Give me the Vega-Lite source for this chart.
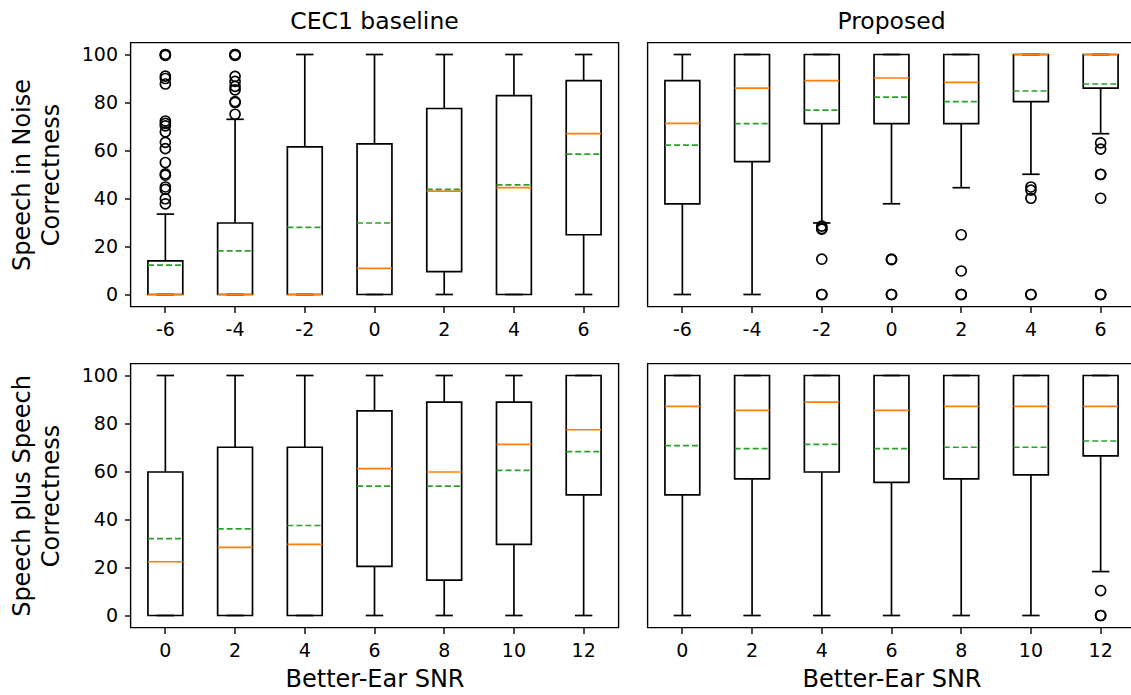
{
  "$schema": "https://vega.github.io/schema/vega-lite/v6.json",
  "background": "white",
  "padding": {"left": 9.5, "top": 8.5, "right": 0, "bottom": 0},
  "columns": 2,
  "spacing": {"row": 57, "column": 29},
  "bounds": "flush",
  "datasets": {
    "boxes": [
      {"panel": "TL", "snr": -6, "q1": 0, "q3": 14, "med": 0, "mean": 12.2, "lo": 0, "hi": 33.5},
      {"panel": "TL", "snr": -4, "q1": 0, "q3": 29.8, "med": 0, "mean": 18.2, "lo": 0, "hi": 73},
      {"panel": "TL", "snr": -2, "q1": 0, "q3": 61.5, "med": 0, "mean": 28, "lo": 0, "hi": 100},
      {"panel": "TL", "snr": 0, "q1": 0, "q3": 62.8, "med": 10.9, "mean": 29.8, "lo": 0, "hi": 100},
      {"panel": "TL", "snr": 2, "q1": 9.5, "q3": 77.5, "med": 43.1, "mean": 43.8, "lo": 0, "hi": 100},
      {"panel": "TL", "snr": 4, "q1": 0, "q3": 82.9, "med": 44.5, "mean": 45.7, "lo": 0, "hi": 100},
      {"panel": "TL", "snr": 6, "q1": 24.9, "q3": 89.1, "med": 67, "mean": 58.5, "lo": 0, "hi": 100},
      {"panel": "TR", "snr": -6, "q1": 37.8, "q3": 89.1, "med": 71.3, "mean": 62.2, "lo": 0, "hi": 100},
      {"panel": "TR", "snr": -4, "q1": 55.4, "q3": 100, "med": 86, "mean": 71.2, "lo": 0, "hi": 100},
      {"panel": "TR", "snr": -2, "q1": 71.2, "q3": 100, "med": 89.1, "mean": 76.8, "lo": 29.8, "hi": 100},
      {"panel": "TR", "snr": 0, "q1": 71.2, "q3": 100, "med": 90.2, "mean": 82.2, "lo": 37.8, "hi": 100},
      {"panel": "TR", "snr": 2, "q1": 71.2, "q3": 100, "med": 88.4, "mean": 80.4, "lo": 44.5, "hi": 100},
      {"panel": "TR", "snr": 4, "q1": 80.4, "q3": 100, "med": 100, "mean": 84.8, "lo": 50.1, "hi": 100},
      {"panel": "TR", "snr": 6, "q1": 86, "q3": 100, "med": 100, "mean": 87.7, "lo": 67, "hi": 100},
      {"panel": "BL", "snr": 0, "q1": 0, "q3": 59.8, "med": 22.4, "mean": 32, "lo": 0, "hi": 100},
      {"panel": "BL", "snr": 2, "q1": 0, "q3": 70.1, "med": 28.4, "mean": 36.1, "lo": 0, "hi": 100},
      {"panel": "BL", "snr": 4, "q1": 0, "q3": 70.1, "med": 29.6, "mean": 37.5, "lo": 0, "hi": 100},
      {"panel": "BL", "snr": 6, "q1": 20.5, "q3": 85.3, "med": 61.2, "mean": 53.9, "lo": 0, "hi": 100},
      {"panel": "BL", "snr": 8, "q1": 14.7, "q3": 88.9, "med": 59.8, "mean": 53.9, "lo": 0, "hi": 100},
      {"panel": "BL", "snr": 10, "q1": 29.6, "q3": 88.9, "med": 71.3, "mean": 60.5, "lo": 0, "hi": 100},
      {"panel": "BL", "snr": 12, "q1": 50.3, "q3": 100, "med": 77.4, "mean": 68.3, "lo": 0, "hi": 100},
      {"panel": "BR", "snr": 0, "q1": 50.3, "q3": 100, "med": 87.1, "mean": 70.8, "lo": 0, "hi": 100},
      {"panel": "BR", "snr": 2, "q1": 56.9, "q3": 100, "med": 85.5, "mean": 69.5, "lo": 0, "hi": 100},
      {"panel": "BR", "snr": 4, "q1": 59.8, "q3": 100, "med": 88.9, "mean": 71.3, "lo": 0, "hi": 100},
      {"panel": "BR", "snr": 6, "q1": 55.5, "q3": 100, "med": 85.5, "mean": 69.5, "lo": 0, "hi": 100},
      {"panel": "BR", "snr": 8, "q1": 56.9, "q3": 100, "med": 87.1, "mean": 70.1, "lo": 0, "hi": 100},
      {"panel": "BR", "snr": 10, "q1": 58.6, "q3": 100, "med": 87.1, "mean": 70.1, "lo": 0, "hi": 100},
      {"panel": "BR", "snr": 12, "q1": 66.5, "q3": 100, "med": 87.1, "mean": 72.7, "lo": 18.3, "hi": 100}
    ],
    "outliers": [
      {"panel": "TL", "snr": -6, "v": 100}, {"panel": "TL", "snr": -6, "v": 100}, {"panel": "TL", "snr": -6, "v": 99.6},
      {"panel": "TL", "snr": -6, "v": 91}, {"panel": "TL", "snr": -6, "v": 90}, {"panel": "TL", "snr": -6, "v": 87.7},
      {"panel": "TL", "snr": -6, "v": 72.3}, {"panel": "TL", "snr": -6, "v": 71.3}, {"panel": "TL", "snr": -6, "v": 70.3},
      {"panel": "TL", "snr": -6, "v": 67.8}, {"panel": "TL", "snr": -6, "v": 63.4}, {"panel": "TL", "snr": -6, "v": 60.8},
      {"panel": "TL", "snr": -6, "v": 55}, {"panel": "TL", "snr": -6, "v": 50.3}, {"panel": "TL", "snr": -6, "v": 49.7},
      {"panel": "TL", "snr": -6, "v": 44.8}, {"panel": "TL", "snr": -6, "v": 43.8}, {"panel": "TL", "snr": -6, "v": 39.9},
      {"panel": "TL", "snr": -6, "v": 37.8},
      {"panel": "TL", "snr": -4, "v": 100}, {"panel": "TL", "snr": -4, "v": 100}, {"panel": "TL", "snr": -4, "v": 99.6},
      {"panel": "TL", "snr": -4, "v": 90.9}, {"panel": "TL", "snr": -4, "v": 88.8}, {"panel": "TL", "snr": -4, "v": 86.7},
      {"panel": "TL", "snr": -4, "v": 85.3}, {"panel": "TL", "snr": -4, "v": 80.4}, {"panel": "TL", "snr": -4, "v": 80},
      {"panel": "TL", "snr": -4, "v": 75.1},
      {"panel": "TR", "snr": -2, "v": 28.5}, {"panel": "TR", "snr": -2, "v": 27.5}, {"panel": "TR", "snr": -2, "v": 27.2},
      {"panel": "TR", "snr": -2, "v": 14.7}, {"panel": "TR", "snr": -2, "v": 0}, {"panel": "TR", "snr": -2, "v": 0},
      {"panel": "TR", "snr": 0, "v": 14.7}, {"panel": "TR", "snr": 0, "v": 14.5}, {"panel": "TR", "snr": 0, "v": 0}, {"panel": "TR", "snr": 0, "v": 0},
      {"panel": "TR", "snr": 2, "v": 24.9}, {"panel": "TR", "snr": 2, "v": 9.8}, {"panel": "TR", "snr": 2, "v": 0}, {"panel": "TR", "snr": 2, "v": 0},
      {"panel": "TR", "snr": 4, "v": 44.8}, {"panel": "TR", "snr": 4, "v": 43.5}, {"panel": "TR", "snr": 4, "v": 40.1},
      {"panel": "TR", "snr": 4, "v": 0}, {"panel": "TR", "snr": 4, "v": 0},
      {"panel": "TR", "snr": 6, "v": 63.2}, {"panel": "TR", "snr": 6, "v": 60.6}, {"panel": "TR", "snr": 6, "v": 50.1},
      {"panel": "TR", "snr": 6, "v": 50}, {"panel": "TR", "snr": 6, "v": 40.1}, {"panel": "TR", "snr": 6, "v": 0}, {"panel": "TR", "snr": 6, "v": 0},
      {"panel": "BR", "snr": 12, "v": 10.4}, {"panel": "BR", "snr": 12, "v": 0}, {"panel": "BR", "snr": 12, "v": 0}
    ]
  },
  "concat": [
    {
      "width": 488, "height": 264,
      "title": "CEC1 baseline",
      "data": {"name": "boxes"},
      "transform": [{"filter": "datum.panel === 'TL'"}],
      "layer": [
        {"mark": {"type": "rule", "color": "black", "strokeWidth": 1.7},
         "encoding": {
           "x": {"field": "snr", "type": "ordinal", "scale": {"type": "band", "domain": [-6, -4, -2, 0, 2, 4, 6], "paddingInner": 0, "paddingOuter": 0}, "axis": {"title": null, "labelAngle": 0}},
           "y": {"field": "lo", "type": "quantitative", "scale": {"domain": [-5, 105], "nice": false, "zero": false}, "axis": {"title": ["Speech in Noise", "Correctness"], "values": [0, 20, 40, 60, 80, 100]}},
           "y2": {"field": "hi"}}},
        {"mark": {"type": "bar", "width": {"band": 0.5}, "fill": "white", "stroke": "black", "strokeWidth": 1.7},
         "encoding": {
           "x": {"field": "snr", "type": "ordinal", "scale": {"type": "band", "domain": [-6, -4, -2, 0, 2, 4, 6], "paddingInner": 0, "paddingOuter": 0}, "axis": {"title": null, "labelAngle": 0}},
           "y": {"field": "q1", "type": "quantitative", "scale": {"domain": [-5, 105], "nice": false, "zero": false}, "axis": {"title": ["Speech in Noise", "Correctness"], "values": [0, 20, 40, 60, 80, 100]}},
           "y2": {"field": "q3"}}},
        {"mark": {"type": "rule", "color": "black", "strokeWidth": 1.7, "xOffset": -8.7, "x2Offset": 8.7},
         "encoding": {
           "x": {"field": "snr", "type": "ordinal", "scale": {"type": "band", "domain": [-6, -4, -2, 0, 2, 4, 6], "paddingInner": 0, "paddingOuter": 0}, "axis": {"title": null, "labelAngle": 0}},
           "x2": {"field": "snr"},
           "y": {"field": "lo", "type": "quantitative", "scale": {"domain": [-5, 105], "nice": false, "zero": false}, "axis": {"title": ["Speech in Noise", "Correctness"], "values": [0, 20, 40, 60, 80, 100]}}}},
        {"mark": {"type": "rule", "color": "black", "strokeWidth": 1.7, "xOffset": -8.7, "x2Offset": 8.7},
         "encoding": {
           "x": {"field": "snr", "type": "ordinal", "scale": {"type": "band", "domain": [-6, -4, -2, 0, 2, 4, 6], "paddingInner": 0, "paddingOuter": 0}, "axis": {"title": null, "labelAngle": 0}},
           "x2": {"field": "snr"},
           "y": {"field": "hi", "type": "quantitative", "scale": {"domain": [-5, 105], "nice": false, "zero": false}, "axis": {"title": ["Speech in Noise", "Correctness"], "values": [0, 20, 40, 60, 80, 100]}}}},
        {"mark": {"type": "rule", "color": "#ff7f0e", "strokeWidth": 1.7, "xOffset": -17.4, "x2Offset": 17.4},
         "encoding": {
           "x": {"field": "snr", "type": "ordinal", "scale": {"type": "band", "domain": [-6, -4, -2, 0, 2, 4, 6], "paddingInner": 0, "paddingOuter": 0}, "axis": {"title": null, "labelAngle": 0}},
           "x2": {"field": "snr"},
           "y": {"field": "med", "type": "quantitative", "scale": {"domain": [-5, 105], "nice": false, "zero": false}, "axis": {"title": ["Speech in Noise", "Correctness"], "values": [0, 20, 40, 60, 80, 100]}}}},
        {"mark": {"type": "rule", "color": "#2ca02c", "strokeWidth": 1.7, "strokeDash": [6, 3], "xOffset": -17.4, "x2Offset": 17.4},
         "encoding": {
           "x": {"field": "snr", "type": "ordinal", "scale": {"type": "band", "domain": [-6, -4, -2, 0, 2, 4, 6], "paddingInner": 0, "paddingOuter": 0}, "axis": {"title": null, "labelAngle": 0}},
           "x2": {"field": "snr"},
           "y": {"field": "mean", "type": "quantitative", "scale": {"domain": [-5, 105], "nice": false, "zero": false}, "axis": {"title": ["Speech in Noise", "Correctness"], "values": [0, 20, 40, 60, 80, 100]}}}},
        {"data": {"name": "outliers"}, "transform": [{"filter": "datum.panel === 'TL'"}],
         "mark": {"type": "point", "shape": "circle", "filled": false, "stroke": "black", "strokeWidth": 1.7, "size": 100, "opacity": 1},
         "encoding": {
           "x": {"field": "snr", "type": "ordinal", "scale": {"type": "band", "domain": [-6, -4, -2, 0, 2, 4, 6], "paddingInner": 0, "paddingOuter": 0}, "axis": {"title": null, "labelAngle": 0}},
           "y": {"field": "v", "type": "quantitative", "scale": {"domain": [-5, 105], "nice": false, "zero": false}, "axis": {"title": ["Speech in Noise", "Correctness"], "values": [0, 20, 40, 60, 80, 100]}}}}
      ]
    },
    {
      "width": 488, "height": 264,
      "title": "Proposed",
      "data": {"name": "boxes"},
      "transform": [{"filter": "datum.panel === 'TR'"}],
      "layer": [
        {"mark": {"type": "rule", "color": "black", "strokeWidth": 1.7},
         "encoding": {
           "x": {"field": "snr", "type": "ordinal", "scale": {"type": "band", "domain": [-6, -4, -2, 0, 2, 4, 6], "paddingInner": 0, "paddingOuter": 0}, "axis": {"title": null, "labelAngle": 0}},
           "y": {"field": "lo", "type": "quantitative", "scale": {"domain": [-5, 105], "nice": false, "zero": false}, "axis": null},
           "y2": {"field": "hi"}}},
        {"mark": {"type": "bar", "width": {"band": 0.5}, "fill": "white", "stroke": "black", "strokeWidth": 1.7},
         "encoding": {
           "x": {"field": "snr", "type": "ordinal", "scale": {"type": "band", "domain": [-6, -4, -2, 0, 2, 4, 6], "paddingInner": 0, "paddingOuter": 0}, "axis": {"title": null, "labelAngle": 0}},
           "y": {"field": "q1", "type": "quantitative", "scale": {"domain": [-5, 105], "nice": false, "zero": false}, "axis": null},
           "y2": {"field": "q3"}}},
        {"mark": {"type": "rule", "color": "black", "strokeWidth": 1.7, "xOffset": -8.7, "x2Offset": 8.7},
         "encoding": {
           "x": {"field": "snr", "type": "ordinal", "scale": {"type": "band", "domain": [-6, -4, -2, 0, 2, 4, 6], "paddingInner": 0, "paddingOuter": 0}, "axis": {"title": null, "labelAngle": 0}},
           "x2": {"field": "snr"},
           "y": {"field": "lo", "type": "quantitative", "scale": {"domain": [-5, 105], "nice": false, "zero": false}, "axis": null}}},
        {"mark": {"type": "rule", "color": "black", "strokeWidth": 1.7, "xOffset": -8.7, "x2Offset": 8.7},
         "encoding": {
           "x": {"field": "snr", "type": "ordinal", "scale": {"type": "band", "domain": [-6, -4, -2, 0, 2, 4, 6], "paddingInner": 0, "paddingOuter": 0}, "axis": {"title": null, "labelAngle": 0}},
           "x2": {"field": "snr"},
           "y": {"field": "hi", "type": "quantitative", "scale": {"domain": [-5, 105], "nice": false, "zero": false}, "axis": null}}},
        {"mark": {"type": "rule", "color": "#ff7f0e", "strokeWidth": 1.7, "xOffset": -17.4, "x2Offset": 17.4},
         "encoding": {
           "x": {"field": "snr", "type": "ordinal", "scale": {"type": "band", "domain": [-6, -4, -2, 0, 2, 4, 6], "paddingInner": 0, "paddingOuter": 0}, "axis": {"title": null, "labelAngle": 0}},
           "x2": {"field": "snr"},
           "y": {"field": "med", "type": "quantitative", "scale": {"domain": [-5, 105], "nice": false, "zero": false}, "axis": null}}},
        {"mark": {"type": "rule", "color": "#2ca02c", "strokeWidth": 1.7, "strokeDash": [6, 3], "xOffset": -17.4, "x2Offset": 17.4},
         "encoding": {
           "x": {"field": "snr", "type": "ordinal", "scale": {"type": "band", "domain": [-6, -4, -2, 0, 2, 4, 6], "paddingInner": 0, "paddingOuter": 0}, "axis": {"title": null, "labelAngle": 0}},
           "x2": {"field": "snr"},
           "y": {"field": "mean", "type": "quantitative", "scale": {"domain": [-5, 105], "nice": false, "zero": false}, "axis": null}}},
        {"data": {"name": "outliers"}, "transform": [{"filter": "datum.panel === 'TR'"}],
         "mark": {"type": "point", "shape": "circle", "filled": false, "stroke": "black", "strokeWidth": 1.7, "size": 100, "opacity": 1},
         "encoding": {
           "x": {"field": "snr", "type": "ordinal", "scale": {"type": "band", "domain": [-6, -4, -2, 0, 2, 4, 6], "paddingInner": 0, "paddingOuter": 0}, "axis": {"title": null, "labelAngle": 0}},
           "y": {"field": "v", "type": "quantitative", "scale": {"domain": [-5, 105], "nice": false, "zero": false}, "axis": null}}}
      ]
    },
    {
      "width": 488, "height": 264,
      "data": {"name": "boxes"},
      "transform": [{"filter": "datum.panel === 'BL'"}],
      "layer": [
        {"mark": {"type": "rule", "color": "black", "strokeWidth": 1.7},
         "encoding": {
           "x": {"field": "snr", "type": "ordinal", "scale": {"type": "band", "domain": [0, 2, 4, 6, 8, 10, 12], "paddingInner": 0, "paddingOuter": 0}, "axis": {"title": "Better-Ear SNR", "labelAngle": 0}},
           "y": {"field": "lo", "type": "quantitative", "scale": {"domain": [-5, 105], "nice": false, "zero": false}, "axis": {"title": ["Speech plus Speech", "Correctness"], "values": [0, 20, 40, 60, 80, 100]}},
           "y2": {"field": "hi"}}},
        {"mark": {"type": "bar", "width": {"band": 0.5}, "fill": "white", "stroke": "black", "strokeWidth": 1.7},
         "encoding": {
           "x": {"field": "snr", "type": "ordinal", "scale": {"type": "band", "domain": [0, 2, 4, 6, 8, 10, 12], "paddingInner": 0, "paddingOuter": 0}, "axis": {"title": "Better-Ear SNR", "labelAngle": 0}},
           "y": {"field": "q1", "type": "quantitative", "scale": {"domain": [-5, 105], "nice": false, "zero": false}, "axis": {"title": ["Speech plus Speech", "Correctness"], "values": [0, 20, 40, 60, 80, 100]}},
           "y2": {"field": "q3"}}},
        {"mark": {"type": "rule", "color": "black", "strokeWidth": 1.7, "xOffset": -8.7, "x2Offset": 8.7},
         "encoding": {
           "x": {"field": "snr", "type": "ordinal", "scale": {"type": "band", "domain": [0, 2, 4, 6, 8, 10, 12], "paddingInner": 0, "paddingOuter": 0}, "axis": {"title": "Better-Ear SNR", "labelAngle": 0}},
           "x2": {"field": "snr"},
           "y": {"field": "lo", "type": "quantitative", "scale": {"domain": [-5, 105], "nice": false, "zero": false}, "axis": {"title": ["Speech plus Speech", "Correctness"], "values": [0, 20, 40, 60, 80, 100]}}}},
        {"mark": {"type": "rule", "color": "black", "strokeWidth": 1.7, "xOffset": -8.7, "x2Offset": 8.7},
         "encoding": {
           "x": {"field": "snr", "type": "ordinal", "scale": {"type": "band", "domain": [0, 2, 4, 6, 8, 10, 12], "paddingInner": 0, "paddingOuter": 0}, "axis": {"title": "Better-Ear SNR", "labelAngle": 0}},
           "x2": {"field": "snr"},
           "y": {"field": "hi", "type": "quantitative", "scale": {"domain": [-5, 105], "nice": false, "zero": false}, "axis": {"title": ["Speech plus Speech", "Correctness"], "values": [0, 20, 40, 60, 80, 100]}}}},
        {"mark": {"type": "rule", "color": "#ff7f0e", "strokeWidth": 1.7, "xOffset": -17.4, "x2Offset": 17.4},
         "encoding": {
           "x": {"field": "snr", "type": "ordinal", "scale": {"type": "band", "domain": [0, 2, 4, 6, 8, 10, 12], "paddingInner": 0, "paddingOuter": 0}, "axis": {"title": "Better-Ear SNR", "labelAngle": 0}},
           "x2": {"field": "snr"},
           "y": {"field": "med", "type": "quantitative", "scale": {"domain": [-5, 105], "nice": false, "zero": false}, "axis": {"title": ["Speech plus Speech", "Correctness"], "values": [0, 20, 40, 60, 80, 100]}}}},
        {"mark": {"type": "rule", "color": "#2ca02c", "strokeWidth": 1.7, "strokeDash": [6, 3], "xOffset": -17.4, "x2Offset": 17.4},
         "encoding": {
           "x": {"field": "snr", "type": "ordinal", "scale": {"type": "band", "domain": [0, 2, 4, 6, 8, 10, 12], "paddingInner": 0, "paddingOuter": 0}, "axis": {"title": "Better-Ear SNR", "labelAngle": 0}},
           "x2": {"field": "snr"},
           "y": {"field": "mean", "type": "quantitative", "scale": {"domain": [-5, 105], "nice": false, "zero": false}, "axis": {"title": ["Speech plus Speech", "Correctness"], "values": [0, 20, 40, 60, 80, 100]}}}}
      ]
    },
    {
      "width": 488, "height": 264,
      "data": {"name": "boxes"},
      "transform": [{"filter": "datum.panel === 'BR'"}],
      "layer": [
        {"mark": {"type": "rule", "color": "black", "strokeWidth": 1.7},
         "encoding": {
           "x": {"field": "snr", "type": "ordinal", "scale": {"type": "band", "domain": [0, 2, 4, 6, 8, 10, 12], "paddingInner": 0, "paddingOuter": 0}, "axis": {"title": "Better-Ear SNR", "labelAngle": 0}},
           "y": {"field": "lo", "type": "quantitative", "scale": {"domain": [-5, 105], "nice": false, "zero": false}, "axis": null},
           "y2": {"field": "hi"}}},
        {"mark": {"type": "bar", "width": {"band": 0.5}, "fill": "white", "stroke": "black", "strokeWidth": 1.7},
         "encoding": {
           "x": {"field": "snr", "type": "ordinal", "scale": {"type": "band", "domain": [0, 2, 4, 6, 8, 10, 12], "paddingInner": 0, "paddingOuter": 0}, "axis": {"title": "Better-Ear SNR", "labelAngle": 0}},
           "y": {"field": "q1", "type": "quantitative", "scale": {"domain": [-5, 105], "nice": false, "zero": false}, "axis": null},
           "y2": {"field": "q3"}}},
        {"mark": {"type": "rule", "color": "black", "strokeWidth": 1.7, "xOffset": -8.7, "x2Offset": 8.7},
         "encoding": {
           "x": {"field": "snr", "type": "ordinal", "scale": {"type": "band", "domain": [0, 2, 4, 6, 8, 10, 12], "paddingInner": 0, "paddingOuter": 0}, "axis": {"title": "Better-Ear SNR", "labelAngle": 0}},
           "x2": {"field": "snr"},
           "y": {"field": "lo", "type": "quantitative", "scale": {"domain": [-5, 105], "nice": false, "zero": false}, "axis": null}}},
        {"mark": {"type": "rule", "color": "black", "strokeWidth": 1.7, "xOffset": -8.7, "x2Offset": 8.7},
         "encoding": {
           "x": {"field": "snr", "type": "ordinal", "scale": {"type": "band", "domain": [0, 2, 4, 6, 8, 10, 12], "paddingInner": 0, "paddingOuter": 0}, "axis": {"title": "Better-Ear SNR", "labelAngle": 0}},
           "x2": {"field": "snr"},
           "y": {"field": "hi", "type": "quantitative", "scale": {"domain": [-5, 105], "nice": false, "zero": false}, "axis": null}}},
        {"mark": {"type": "rule", "color": "#ff7f0e", "strokeWidth": 1.7, "xOffset": -17.4, "x2Offset": 17.4},
         "encoding": {
           "x": {"field": "snr", "type": "ordinal", "scale": {"type": "band", "domain": [0, 2, 4, 6, 8, 10, 12], "paddingInner": 0, "paddingOuter": 0}, "axis": {"title": "Better-Ear SNR", "labelAngle": 0}},
           "x2": {"field": "snr"},
           "y": {"field": "med", "type": "quantitative", "scale": {"domain": [-5, 105], "nice": false, "zero": false}, "axis": null}}},
        {"mark": {"type": "rule", "color": "#2ca02c", "strokeWidth": 1.7, "strokeDash": [6, 3], "xOffset": -17.4, "x2Offset": 17.4},
         "encoding": {
           "x": {"field": "snr", "type": "ordinal", "scale": {"type": "band", "domain": [0, 2, 4, 6, 8, 10, 12], "paddingInner": 0, "paddingOuter": 0}, "axis": {"title": "Better-Ear SNR", "labelAngle": 0}},
           "x2": {"field": "snr"},
           "y": {"field": "mean", "type": "quantitative", "scale": {"domain": [-5, 105], "nice": false, "zero": false}, "axis": null}}},
        {"data": {"name": "outliers"}, "transform": [{"filter": "datum.panel === 'BR'"}],
         "mark": {"type": "point", "shape": "circle", "filled": false, "stroke": "black", "strokeWidth": 1.7, "size": 100, "opacity": 1},
         "encoding": {
           "x": {"field": "snr", "type": "ordinal", "scale": {"type": "band", "domain": [0, 2, 4, 6, 8, 10, 12], "paddingInner": 0, "paddingOuter": 0}, "axis": {"title": "Better-Ear SNR", "labelAngle": 0}},
           "y": {"field": "v", "type": "quantitative", "scale": {"domain": [-5, 105], "nice": false, "zero": false}, "axis": null}}}
      ]
    }
  ],
  "config": {
    "font": "DejaVu Sans",
    "view": {"stroke": "black", "strokeWidth": 1.4},
    "axis": {"domain": false, "grid": false, "tickColor": "black", "tickWidth": 1.4, "tickSize": 6, "labelColor": "black", "labelFont": "DejaVu Sans", "labelFontSize": 19, "labelFlush": false, "labelOverlap": false, "titleFont": "DejaVu Sans", "titleFontSize": 24, "titleFontWeight": "normal", "titleColor": "black", "titleLineHeight": 29},
    "axisX": {"labelPadding": 8, "titlePadding": 7},
    "axisY": {"labelPadding": 7, "titlePadding": 18},
    "title": {"font": "DejaVu Sans", "fontSize": 23.5, "fontWeight": "normal", "color": "black", "offset": 9}
  }
}
